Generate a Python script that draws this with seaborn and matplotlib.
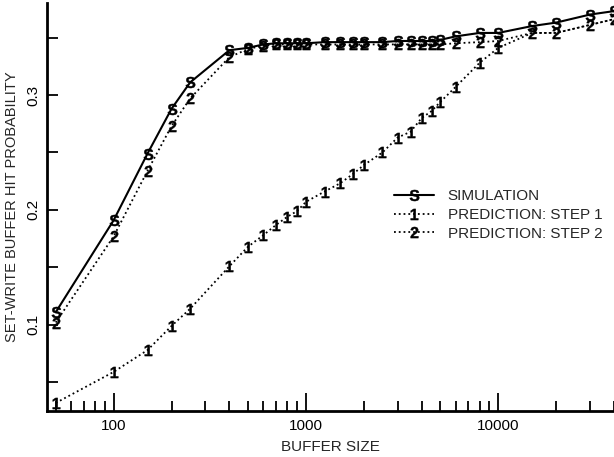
import numpy as np
import matplotlib
matplotlib.use('Agg')
import matplotlib.pyplot as plt
import seaborn as sns
import pandas as pd
from matplotlib.ticker import FixedLocator, NullFormatter, FixedFormatter
from matplotlib.lines import Line2D

# buffer sizes
sim_size = [50, 100, 150, 200, 250, 400, 500, 600, 700, 800, 900, 1000, 1250, 1500, 1750, 2000,
            2500, 3000, 3500, 4000, 4500, 5000, 6000, 8000, 10000, 15000, 20000, 30000, 40000]
sim_hit = [0.111, 0.191, 0.249, 0.288, 0.311, 0.339, 0.341, 0.344, 0.345, 0.345, 0.345, 0.345, 0.346,
           0.346, 0.346, 0.346, 0.346, 0.347, 0.347, 0.347, 0.347, 0.348, 0.351, 0.354, 0.354, 0.360,
           0.363, 0.370, 0.373]
step2_hit = [0.102, 0.177, 0.234, 0.273, 0.297, 0.333, 0.340, 0.343, 0.344, 0.344, 0.344, 0.344, 0.344,
             0.344, 0.344, 0.344, 0.344, 0.344, 0.344, 0.344, 0.344, 0.344, 0.345, 0.346, 0.347, 0.354,
             0.354, 0.361, 0.366]

step1_size = [50, 100, 150, 200, 250, 400, 500, 600, 700, 800, 900, 1000, 1250, 1500, 1750, 2000,
              2500, 3000, 3500, 4000, 4500, 5000, 6000, 8000, 10000, 15000, 20000, 30000, 40000]
step1_hit = [0.032, 0.059, 0.078, 0.099, 0.114, 0.151, 0.168, 0.178, 0.187, 0.194, 0.199, 0.207, 0.216,
             0.223, 0.231, 0.239, 0.250, 0.263, 0.268, 0.280, 0.286, 0.294, 0.307, 0.328, 0.341, 0.354,
             0.354, 0.361, 0.366]

x_major = [100, 1000, 10000]
y_major = [0.1, 0.2, 0.3]
y_minor = [0.05, 0.15, 0.25, 0.35]

sns.set_style('ticks')
plt.rcParams['font.family'] = ['Liberation Sans Narrow', 'Liberation Sans', 'DejaVu Sans']
plt.rcParams['mathtext.fontset'] = 'custom'
plt.rcParams['mathtext.rm'] = 'Liberation Sans'
plt.rcParams['mathtext.bf'] = 'Liberation Sans:bold'

fig = plt.figure(figsize=(6.14, 4.57), dpi=100)
ax = fig.add_axes([0.0765, 0.1007, 0.9235, 0.8926])

sim_df = pd.DataFrame({'size': sim_size, 'hit': sim_hit, 'step2': step2_hit})
s1_df = pd.DataFrame({'size': step1_size, 'hit': step1_hit})
n_s1_marks = step1_size.index(10000) + 1

mk = dict(markersize=8, markeredgewidth=0.3, markeredgecolor='black', markerfacecolor='black')
sns.lineplot(data=s1_df, x='size', y='hit', ax=ax, color='black', lw=1.3, ls=':',
             marker=r'$\mathbf{1}$', markevery=list(range(n_s1_marks)), **mk)
sns.lineplot(data=sim_df, x='size', y='step2', ax=ax, color='black', lw=1.3, ls=':',
             marker=r'$\mathbf{2}$', **mk)
sns.lineplot(data=sim_df, x='size', y='hit', ax=ax, color='black', lw=1.5, ls='-',
             marker=r'$\mathbf{S}$', **mk)

ax.set_xscale('log')
ax.set_xlim(45, 40000)
ax.set_ylim(0.025, 0.38)

ax.xaxis.set_major_locator(FixedLocator(x_major))
ax.xaxis.set_major_formatter(FixedFormatter([str(v) for v in x_major]))
minor_x = [m * d for d in [10, 100, 1000, 10000] for m in range(2, 10) if 45 <= m * d <= 40000]
ax.xaxis.set_minor_locator(FixedLocator(minor_x))
ax.xaxis.set_minor_formatter(NullFormatter())
ax.yaxis.set_major_locator(FixedLocator(y_major))
ax.yaxis.set_major_formatter(FixedFormatter([f'{v:.1f}' for v in y_major]))
ax.yaxis.set_minor_locator(FixedLocator(y_minor))

ax.tick_params(axis='both', which='both', direction='in', width=1.3, colors='black', labelsize=11)
ax.tick_params(axis='x', which='major', length=13, pad=6)
ax.tick_params(axis='x', which='minor', length=7)
ax.tick_params(axis='y', which='both', length=8, pad=5)
for lab in ax.get_yticklabels():
    lab.set_rotation(90)
    lab.set_va('center')

sns.despine(ax=ax)
for side in ['left', 'bottom']:
    ax.spines[side].set_linewidth(2)
    ax.spines[side].set_color('black')

ax.set_xlabel('BUFFER SIZE', fontsize=11, labelpad=5)
ax.set_ylabel('SET-WRITE BUFFER HIT PROBABILITY', fontsize=10.5, labelpad=5)

handles = [
    Line2D([], [], color='black', lw=1.5, ls='-', marker=r'$\mathbf{S}$', **mk),
    Line2D([], [], color='black', lw=1.3, ls=':', marker=r'$\mathbf{1}$', **mk),
    Line2D([], [], color='black', lw=1.3, ls=':', marker=r'$\mathbf{2}$', **mk),
]
ax.legend(handles, ['SIMULATION', 'PREDICTION: STEP 1', 'PREDICTION: STEP 2'],
          loc='upper left', bbox_to_anchor=(0.588, 0.577), frameon=False, fontsize=11,
          handlelength=2.6, handletextpad=0.9, labelspacing=0.3, numpoints=1)

fig.savefig('out.png', dpi=100)
